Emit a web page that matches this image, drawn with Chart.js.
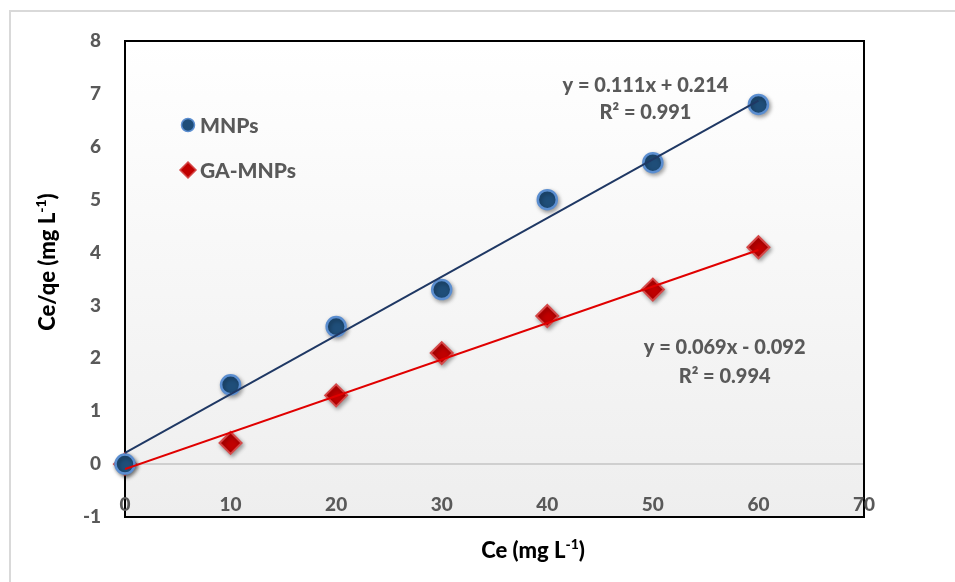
<!DOCTYPE html>
<html>
<head>
<meta charset="utf-8">
<script src="https://cdn.jsdelivr.net/npm/chart.js@4.4.1/dist/chart.umd.min.js"></script>
<style>
html, body { margin: 0; padding: 0; background: #fff; }
#wrap { position: relative; width: 955px; height: 582px; }
</style>
</head>
<body>
<div id="wrap"><canvas id="isoChart"></canvas></div>
<script>
// Data
const ceValues = [0, 10, 20, 30, 40, 50, 60];
const mnpsValues = [0, 1.5, 2.6, 3.3, 5.0, 5.7, 6.8];
const gaMnpsValues = [0, 0.4, 1.3, 2.1, 2.8, 3.3, 4.1];

// Trendline end points at x = 0 and x = 60, taken from the printed equations
const fitX = [0, 60];
const mnpsFit = [0.214, 6.874];
const gaMnpsFit = [-0.092, 4.048];

const seriesNames = ['MNPs', 'GA-MNPs'];
const mnpsEquation = ['y = 0.111x + 0.214', 'R² = 0.991'];
const gaMnpsEquation = ['y = 0.069x - 0.092', 'R² = 0.994'];
// axis titles as [text, superscript, tail]
const xTitle = ['Ce (mg L', '-1', ')'];
const yTitle = ['Ce/qe (mg L', '-1', ')'];

const FONT = 'Lato, "Open Sans", sans-serif';
const GREY_TEXT = '#595959';

const toPoints = (xs, ys) => xs.map((x, i) => ({ x: x, y: ys[i] }));

// Plot area background, outer frame, plot border
const framePlugin = {
    id: 'frame',
    beforeDraw(chart) {
        const { ctx, chartArea: a } = chart;
        ctx.save();
        ctx.strokeStyle = '#d9d9d9';
        ctx.lineWidth = 2;
        ctx.strokeRect(10, 11, 1000, 700);
        const g = ctx.createLinearGradient(0, a.top, 0, a.bottom);
        g.addColorStop(0, '#ffffff');
        g.addColorStop(1, '#eeeeee');
        ctx.fillStyle = g;
        ctx.fillRect(a.left, a.top, a.right - a.left, a.bottom - a.top);
        ctx.restore();
    },
    beforeDatasetsDraw(chart) {
        const { ctx, chartArea: a, scales: { x } } = chart;
        ctx.save();
        ctx.strokeStyle = '#000';
        ctx.lineWidth = 2;
        ctx.beginPath();
        ctx.moveTo(a.left, a.top);
        ctx.lineTo(a.right, a.top);
        ctx.lineTo(a.right, a.bottom);
        ctx.stroke();

        // x tick labels sit inside the plot, just above the bottom border
        ctx.fillStyle = GREY_TEXT;
        ctx.font = '900 19px ' + FONT;
        ctx.textAlign = 'center';
        ctx.textBaseline = 'middle';
        x.ticks.forEach(t => {
            ctx.fillText(String(t.value), x.getPixelForValue(t.value), a.bottom - 12);
        });
        ctx.restore();
    }
};

// Soft drop shadow under the markers
const shadowPlugin = {
    id: 'markerShadow',
    beforeDatasetDraw(chart, args) {
        if (chart.data.datasets[args.index].isMarker) {
            const ctx = chart.ctx;
            ctx.save();
            ctx.shadowColor = 'rgba(0,0,0,0.35)';
            ctx.shadowBlur = 4;
            ctx.shadowOffsetX = 1.5;
            ctx.shadowOffsetY = 2;
        }
    },
    afterDatasetDraw(chart, args) {
        if (chart.data.datasets[args.index].isMarker) {
            chart.ctx.restore();
        }
    }
};

function drawSupTitle(ctx, parts, cx, cy) {
    const big = '900 22px ' + FONT;
    const small = '900 14px ' + FONT;
    ctx.font = big;
    const w1 = ctx.measureText(parts[0]).width;
    const w3 = ctx.measureText(parts[2]).width;
    ctx.font = small;
    const w2 = ctx.measureText(parts[1]).width;
    let left = cx - (w1 + w2 + w3) / 2;
    ctx.textAlign = 'left';
    ctx.textBaseline = 'middle';
    ctx.font = big;
    ctx.fillText(parts[0], left, cy);
    ctx.font = small;
    ctx.fillText(parts[1], left + w1, cy - 7);
    ctx.font = big;
    ctx.fillText(parts[2], left + w1 + w2, cy);
}

// Legend, equations and axis titles
const textPlugin = {
    id: 'texts',
    afterDraw(chart) {
        const { ctx, scales: { x, y } } = chart;
        ctx.save();

        // legend
        const mk = chart.data.datasets;
        ctx.lineWidth = 1.5;
        ctx.fillStyle = mk[2].backgroundColor;
        ctx.strokeStyle = mk[2].borderColor;
        ctx.beginPath();
        ctx.arc(188, 125, 6.5, 0, Math.PI * 2);
        ctx.fill();
        ctx.stroke();
        ctx.fillStyle = mk[3].backgroundColor;
        ctx.strokeStyle = mk[3].borderColor;
        ctx.beginPath();
        ctx.moveTo(188, 162); ctx.lineTo(196, 170); ctx.lineTo(188, 178); ctx.lineTo(180, 170);
        ctx.closePath();
        ctx.fill();
        ctx.stroke();

        ctx.fillStyle = GREY_TEXT;
        ctx.font = '900 21px ' + FONT;
        ctx.textAlign = 'left';
        ctx.textBaseline = 'middle';
        ctx.fillText(seriesNames[0], 200, 126);
        ctx.fillText(seriesNames[1], 200, 171);

        // equations
        ctx.textAlign = 'center';
        ctx.font = '900 20px ' + FONT;
        ctx.fillText(mnpsEquation[0], x.getPixelForValue(49.3), y.getPixelForValue(7.15));
        ctx.fillText(mnpsEquation[1], x.getPixelForValue(49.3), y.getPixelForValue(6.65));
        ctx.fillText(gaMnpsEquation[0], x.getPixelForValue(56.8), y.getPixelForValue(2.2));
        ctx.fillText(gaMnpsEquation[1], x.getPixelForValue(56.8), y.getPixelForValue(1.66));

        // axis titles
        ctx.fillStyle = '#000';
        drawSupTitle(ctx, xTitle, 533, 551);
        ctx.translate(48, 262);
        ctx.rotate(-Math.PI / 2);
        drawSupTitle(ctx, yTitle, 0, 0);
        ctx.restore();
    }
};

new Chart(document.getElementById('isoChart'), {
    type: 'scatter',
    data: {
        datasets: [
            {
                label: 'MNPs fit',
                type: 'line',
                data: toPoints(fitX, mnpsFit),
                borderColor: '#1f3864',
                borderWidth: 2,
                pointRadius: 0,
                fill: false,
                order: 0
            },
            {
                label: 'GA-MNPs fit',
                type: 'line',
                data: toPoints(fitX, gaMnpsFit),
                borderColor: '#e00000',
                borderWidth: 2,
                pointRadius: 0,
                fill: false,
                order: 0
            },
            {
                label: seriesNames[0],
                isMarker: true,
                data: toPoints(ceValues, mnpsValues),
                backgroundColor: '#1f4e79',
                borderColor: '#5b8ed0',
                borderWidth: 2.5,
                pointStyle: 'circle',
                pointRadius: 9.5,
                clip: false,
                order: 1
            },
            {
                label: seriesNames[1],
                isMarker: true,
                data: toPoints(ceValues, gaMnpsValues),
                backgroundColor: '#c00000',
                borderColor: '#d54848',
                borderWidth: 2,
                pointStyle: 'rectRot',
                pointRadius: 11,
                clip: false,
                order: 1
            }
        ]
    },
    options: {
        responsive: true,
        maintainAspectRatio: false,
        animation: false,
        layout: { padding: { top: 41, right: 91, left: 0, bottom: 0 } },
        plugins: {
            legend: { display: false },
            tooltip: { enabled: false }
        },
        scales: {
            x: {
                type: 'linear',
                min: 0,
                max: 70,
                afterFit: (s) => { s.height = 65; },
                ticks: { stepSize: 10, display: false },
                grid: { display: false, drawTicks: false },
                border: { display: true, color: '#000', width: 2 }
            },
            y: {
                min: -1,
                max: 8,
                afterFit: (s) => { s.width = 125; },
                ticks: {
                    stepSize: 1,
                    padding: 24,
                    color: GREY_TEXT,
                    font: { family: FONT, size: 19, weight: '900' }
                },
                grid: {
                    drawTicks: false,
                    lineWidth: 2,
                    color: (c) => (c.tick && c.tick.value === 0 ? '#cfcfcf' : 'rgba(0,0,0,0)')
                },
                border: { display: true, color: '#000', width: 2 }
            }
        }
    },
    plugins: [framePlugin, shadowPlugin, textPlugin]
});
</script>
</body>
</html>
